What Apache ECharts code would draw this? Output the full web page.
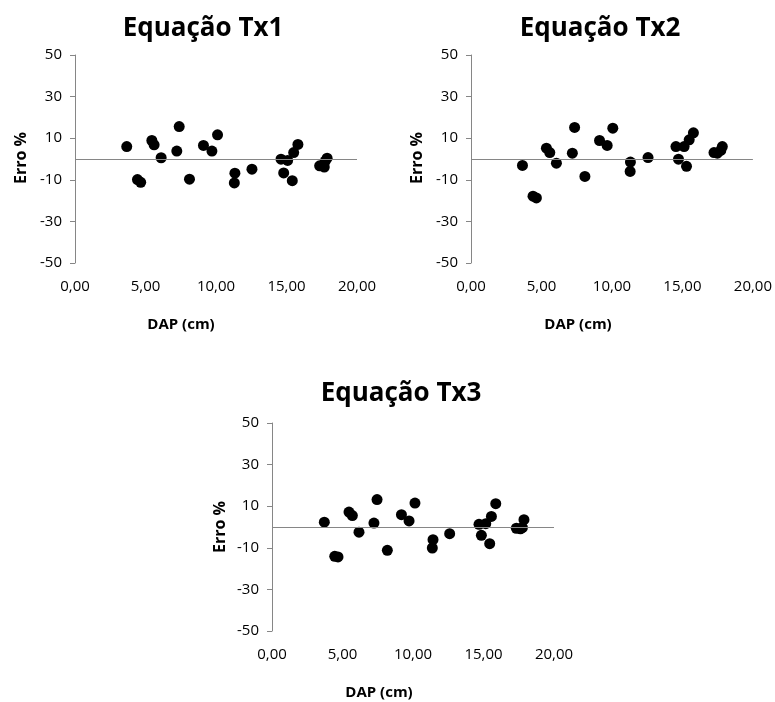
<!DOCTYPE html>
<html>
<head>
<meta charset="utf-8">
<script src="https://cdn.jsdelivr.net/npm/echarts@6/dist/echarts.min.js"></script>
<style>html,body{margin:0;padding:0;background:#fff}#c{width:775px;height:702px}</style>
</head>
<body>
<div id="c"></div>
<script>
var titles = ['Equação Tx1', 'Equação Tx2', 'Equação Tx3'];
var xName = 'DAP (cm)';
var yName = 'Erro %';

var dap1 = [3.67, 4.43, 4.66, 5.45, 5.61, 6.11, 7.22, 7.39, 8.12, 9.11, 9.71, 10.11, 11.34, 11.30, 12.55, 14.61, 15.08, 14.80, 15.41, 15.51, 15.81, 17.35, 17.68, 17.75, 17.88];
var erro1 = [6.0, -9.9, -11.2, 8.9, 6.8, 0.6, 3.8, 15.6, -9.7, 6.5, 3.8, 11.6, -6.8, -11.5, -4.9, -0.1, -0.7, -6.7, -10.4, 3.1, 7.0, -3.3, -3.9, -1.0, 0.4];

var dap2 = [3.65, 4.40, 4.64, 5.35, 5.59, 6.06, 7.19, 7.35, 8.08, 9.12, 9.66, 10.06, 11.31, 11.29, 12.56, 14.54, 14.72, 15.12, 15.29, 15.48, 15.78, 17.24, 17.48, 17.72, 17.83];
var erro2 = [-3.1, -17.9, -18.7, 5.2, 3.1, -2.0, 2.8, 15.2, -8.4, 8.9, 6.5, 14.8, -1.5, -6.0, 0.7, 6.0, -0.1, 6.0, -3.5, 9.2, 12.6, 3.1, 2.8, 4.1, 6.0];

var dap3 = [3.71, 4.45, 4.68, 5.46, 5.70, 6.17, 7.23, 7.45, 8.18, 9.18, 9.72, 10.14, 11.42, 11.37, 12.60, 14.68, 14.85, 15.16, 15.44, 15.56, 15.87, 17.33, 17.62, 17.76, 17.87];
var erro3 = [2.3, -14.1, -14.4, 7.2, 5.5, -2.5, 1.9, 13.2, -11.2, 5.9, 2.9, 11.5, -6.1, -10.1, -3.2, 1.3, -4.0, 1.6, -8.0, 5.1, 11.2, -0.6, -0.9, -0.3, 3.5];

var xMin = 0, xMax = 20, xStep = 5;
var yMin = -50, yMax = 50, yStep = 20;

function pairs(xs, ys) { return xs.map(function (x, i) { return [x, ys[i]]; }); }
var allData = [pairs(dap1, erro1), pairs(dap2, erro2), pairs(dap3, erro3)];

var grids = [
  {left: 75, top: 55, width: 282, height: 208},
  {left: 471, top: 55, width: 283, height: 208},
  {left: 272, top: 423, width: 282, height: 208}
];
var axisGrey = '#868686';
var fontFam = '"Open Sans", "Noto Sans", sans-serif';

var xAxes = [], yAxes = [], series = [], graphics = [];
grids.forEach(function (g, i) {
  xAxes.push({
    type: 'value', gridIndex: i, min: xMin, max: xMax, interval: xStep,
    axisLine: {show: false}, axisTick: {show: false}, splitLine: {show: false},
    axisLabel: {margin: 16, color: '#000', fontSize: 15, fontFamily: fontFam,
      formatter: function (v) { return v.toFixed(2).replace('.', ','); }}
  });
  yAxes.push({
    type: 'value', gridIndex: i, min: yMin, max: yMax, interval: yStep,
    axisLine: {show: true, lineStyle: {color: axisGrey, width: 1}},
    axisTick: {show: true, length: 5, lineStyle: {color: axisGrey}},
    splitLine: {show: false},
    axisLabel: {margin: 13, color: '#000', fontSize: 15, fontFamily: fontFam}
  });
  series.push({
    type: 'scatter', xAxisIndex: i, yAxisIndex: i, data: allData[i],
    symbolSize: 11, itemStyle: {color: '#000', opacity: 1}, silent: true,
    markLine: {
      silent: true, symbol: 'none', label: {show: false},
      lineStyle: {color: axisGrey, type: 'solid', width: 1},
      data: [{yAxis: 0}], animation: false
    }
  });
});

var titlePos = [[203, 29], [600, 29], [401, 394]];
var xNamePos = [[181, 325], [578, 325], [379, 693]];
var yNamePos = [[21, 158], [417, 158], [220, 527]];
for (var i = 0; i < 3; i++) {
  graphics.push({type: 'text', x: titlePos[i][0], y: titlePos[i][1],
    style: {text: titles[i], fill: '#000', font: 'bold 26px ' + fontFam, align: 'center', verticalAlign: 'middle'}});
  graphics.push({type: 'text', x: xNamePos[i][0], y: xNamePos[i][1],
    style: {text: xName, fill: '#000', font: 'bold 15px ' + fontFam, align: 'center', verticalAlign: 'middle'}});
  graphics.push({type: 'text', x: yNamePos[i][0], y: yNamePos[i][1], rotation: Math.PI / 2,
    style: {text: yName, fill: '#000', font: 'bold 16px ' + fontFam, align: 'center', verticalAlign: 'middle'}});
}

var chart = echarts.init(document.getElementById('c'), null, {renderer: 'canvas'});
chart.setOption({
  animation: false,
  backgroundColor: '#fff',
  grid: grids,
  xAxis: xAxes,
  yAxis: yAxes,
  series: series,
  graphic: graphics
});
</script>
</body>
</html>
